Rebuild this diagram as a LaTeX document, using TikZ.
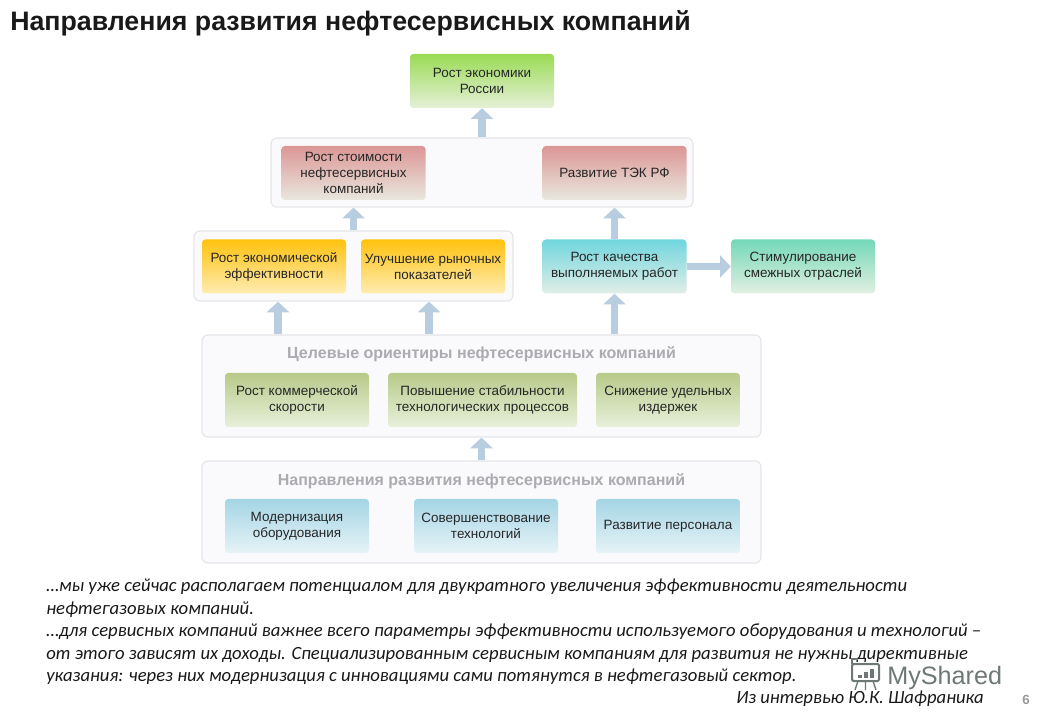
\documentclass[tikz,border=0pt]{standalone}
\usepackage{fontspec}
\setmainfont{Liberation Sans}
\newfontfamily\bodyfont{Carlito}
\usetikzlibrary{arrows.meta}

\definecolor{arrowblue}{HTML}{B9CDE1}
\definecolor{groupfill}{HTML}{FAFAFC}
\definecolor{groupline}{HTML}{E6E6EA}
\definecolor{headgray}{HTML}{ABABB0}
\definecolor{markgray}{HTML}{6E7876}
\definecolor{limeTop}{HTML}{9ADB55}
\definecolor{limeEnd}{HTML}{E6F0D8}
\definecolor{redTop}{HTML}{DC9696}
\definecolor{redEnd}{HTML}{E8E8DE}
\definecolor{amberTop}{HTML}{FFC20E}
\definecolor{amberEnd}{HTML}{FFECB2}
\definecolor{tealTop}{HTML}{70D6DE}
\definecolor{tealEnd}{HTML}{E2EEE8}
\definecolor{mintTop}{HTML}{74D8B8}
\definecolor{mintEnd}{HTML}{E2F0E2}
\definecolor{oliveTop}{HTML}{B8CA8A}
\definecolor{oliveEnd}{HTML}{E8F0DA}
\definecolor{skyTop}{HTML}{A5D5E5}
\definecolor{skyEnd}{HTML}{E6F3F7}

\tikzset{
	groupbox/.style={draw=groupline, fill=groupfill, line width=0.9pt, rounded corners=4.5pt, inner sep=0pt},
	box/.style 2 args={rounded corners=2.5pt, inner sep=0pt, minimum width=108pt, minimum height=40.5pt, align=center,
		font=\fontsize{10.1}{12}\selectfont, text=black!85, top color=#1, bottom color=#2},
	heading/.style={font=\fontsize{12}{14}\selectfont\bfseries, text=headgray},
	bigarrow/.style={draw=arrowblue, line width=5.8pt, -{Triangle[length=8pt,width=16.5pt]}},
	bodyline/.style={anchor=base west, inner sep=0pt, font=\bodyfont\itshape\fontsize{14}{16}\selectfont, text=black!90},
}

\begin{document}
\begin{tikzpicture}[x=0.75pt, y=-0.75pt]
	\useasboundingbox (0,0) rectangle (1040,720);
	\node[anchor=west, inner sep=0pt, font=\fontsize{20.05}{23}\selectfont\bfseries, text=black!90] (title) at (10,23)
		{Направления развития нефтесервисных компаний};

	% group frames
	\node[groupbox, minimum width=316.5pt, minimum height=51.75pt] (grpValue) at (482,172.5) {};
	\node[groupbox, minimum width=239.25pt, minimum height=52.5pt] (grpEff) at (353.5,266) {};
	\node[groupbox, minimum width=419.25pt, minimum height=76.5pt] (grpGoal) at (481.5,386) {};
	\node[groupbox, minimum width=419.25pt, minimum height=76.5pt] (grpDir) at (481.5,512) {};
	\node[heading] (headGoal) at (481.5,354) {Целевые ориентиры нефтесервисных компаний};
	\node[heading] (headDir) at (481.5,481) {Направления развития нефтесервисных компаний};

	% boxes
	\node[box={limeTop}{limeEnd}] (econ) at (482,81) {Рост экономики\\России};
	\foreach \name/\cx/\txt in {costA/353.5/{Рост стоимости\\нефтесервисных\\компаний}, costB/614.5/{Развитие ТЭК РФ}}
		\node[box={redTop}{redEnd}] (\name) at (\cx,173) {\txt};
	\foreach \name/\cx/\txt in {effA/274/{Рост экономической\\эффективности}, effB/433/{Улучшение рыночных\\показателей}}
		\node[box={amberTop}{amberEnd}] (\name) at (\cx,266.5) {\txt};
	\node[box={tealTop}{tealEnd}] (quality) at (614.5,266.5) {Рост качества\\выполняемых работ};
	\node[box={mintTop}{mintEnd}] (related) at (803,266.5) {Стимулирование\\смежных отраслей};
	\foreach \name/\cx/\boxw/\txt in {goalA/297/108pt/{Рост коммерческой\\скорости}, goalB/482.5/141.75pt/{Повышение стабильности\\технологических процессов}, goalC/668/108pt/{Снижение удельных\\издержек}}
		\node[box={oliveTop}{oliveEnd}, minimum width=\boxw] (\name) at (\cx,400) {\txt};
	\foreach \name/\cx/\txt in {dirA/297/{Модернизация\\оборудования}, dirB/486/{Совершенствование\\технологий}, dirC/668/{Развитие персонала}}
		\node[box={skyTop}{skyEnd}] (\name) at (\cx,526) {\txt};

	% arrows
	\draw[bigarrow] (econ.south |- grpValue.north) -- (econ.south);
	\draw[bigarrow] (costA.south |- grpEff.north) -- (costA.south |- grpValue.south);
	\draw[bigarrow] (quality.north) -- (costB.south |- grpValue.south);
	\draw[bigarrow] (quality.east) -- (related.west);
	\draw[bigarrow] ([xshift=3pt]effA.south |- grpGoal.north) -- ([xshift=3pt]effA.south |- grpEff.south);
	\draw[bigarrow] ([xshift=-3pt]effB.south |- grpGoal.north) -- ([xshift=-3pt]effB.south |- grpEff.south);
	\draw[bigarrow] (quality.south |- grpGoal.north) -- (quality.south);
	\draw[bigarrow] (grpDir.north) -- (grpGoal.south);

	% text under the chart
	\node[bodyline] (lineA) at (46,591) {…мы уже сейчас располагаем потенциалом для двукратного увеличения эффективности деятельности};
	\node[bodyline] (lineB) at (46,614) {нефтегазовых компаний.};
	\node[bodyline] (lineC) at (46,636) {…для сервисных компаний важнее всего параметры эффективности используемого оборудования и технологий –};
	\node[bodyline] (lineD) at (46,659) {от этого зависят их доходы. Специализированным сервисным компаниям для развития не нужны директивные};
	\node[bodyline] (lineE) at (46,681) {указания: через них модернизация с инновациями сами потянутся в нефтегазовый сектор.};
	\node[bodyline] (author) at (736,703) {Из интервью Ю.К. Шафраника};
	\node[font=\fontsize{10}{12}\selectfont\bfseries, text=black!40, inner sep=0pt] (pageNum) at (1026,700) {6};

	% watermark
	\draw[markgray, line width=1.5pt, rounded corners=1pt] (852,664) rectangle (879,681);
	\foreach \x/\y in {858/675, 864/672, 870/669}
		\fill[markgray] (\x,\y) rectangle (\x+3.5,678);
	\draw[markgray, line width=1pt] (858,681) -- (855,690) (873,681) -- (876,690) (865.5,681) -- (865.5,690);
	\draw[markgray, line width=1pt] (852,664) -- (852,659) -- (858,659);
	\node[anchor=base west, inner sep=0pt, font=\fontsize{18.9}{22}\selectfont, text=markgray] (mark) at (887,684) {MyShared};
\end{tikzpicture}
\end{document}
